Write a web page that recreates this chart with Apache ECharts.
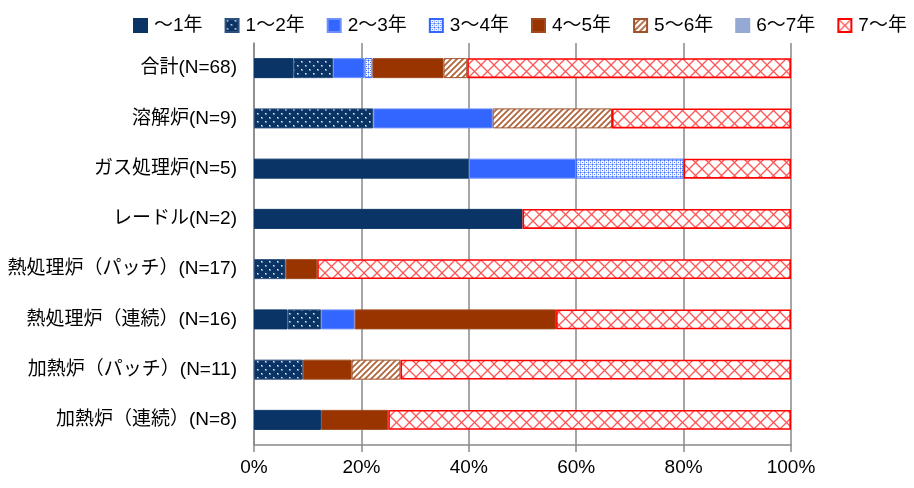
<!DOCTYPE html>
<html>
<head>
<meta charset="utf-8">
<script src="https://cdn.jsdelivr.net/npm/echarts@6/dist/echarts.min.js"></script>
<style>
  html, body { margin: 0; padding: 0; background: #fff; }
  #chart { width: 914px; height: 488px; }
</style>
</head>
<body>
<div id="chart"></div>
<script>
// Furnace types (top to bottom) and number of responses in each group
const categories = [
  '合計(N=68)',
  '溶解炉(N=9)',
  'ガス処理炉(N=5)',
  'レードル(N=2)',
  '熱処理炉（パッチ）(N=17)',
  '熱処理炉（連続）(N=16)',
  '加熱炉（パッチ）(N=11)',
  '加熱炉（連続）(N=8)'
];
const groupTotals = [68, 9, 5, 2, 17, 16, 11, 8];

// Response counts per age bracket, one value per category above
const seriesNames = ['～1年', '1～2年', '2～3年', '3～4年', '4～5年', '5～6年', '6～7年', '7～年'];
const upTo1  = [5, 0, 2, 1, 0, 1, 0, 1];
const y1to2  = [5, 2, 0, 0, 1, 1, 1, 0];
const y2to3  = [4, 2, 1, 0, 0, 1, 0, 0];
const y3to4  = [1, 0, 1, 0, 0, 0, 0, 0];
const y4to5  = [9, 0, 0, 0, 1, 6, 1, 1];
const y5to6  = [3, 2, 0, 0, 0, 0, 1, 0];
const y6to7  = [0, 0, 0, 0, 0, 0, 0, 0];
const over7  = [41, 3, 1, 1, 15, 7, 8, 6];

const xTicks = [0, 20, 40, 60, 80, 100];

// ---- fill patterns ----
function tile(w, h, draw) {
  const c = document.createElement('canvas');
  c.width = w; c.height = h;
  const g = c.getContext('2d');
  draw(g, w, h);
  return c;
}
const dotsOnNavy = tile(8, 8, (g) => {
  g.fillStyle = '#0b3466'; g.fillRect(0, 0, 8, 8);
  g.fillStyle = '#6f87a8';
  g.fillRect(1, 1, 2, 2);
  g.fillRect(5, 5, 2, 2);
  g.fillStyle = '#eef2f8';
  g.fillRect(1, 1, 1, 1);
  g.fillRect(5, 5, 1, 1);
});
const blueGrid = tile(4, 4, (g) => {
  g.fillStyle = '#ffffff'; g.fillRect(0, 0, 4, 4);
  g.fillStyle = '#9fb5ff';
  g.fillRect(0, 0, 4, 1);
  g.fillRect(0, 0, 1, 4);
  g.fillStyle = '#3c6bff';
  g.fillRect(0, 0, 1, 1);
  g.fillRect(2, 2, 1, 1);
});
const brownStripes = tile(6, 6, (g) => {
  g.fillStyle = '#ffffff'; g.fillRect(0, 0, 6, 6);
  g.strokeStyle = '#b0663a'; g.lineWidth = 1.8;
  g.beginPath();
  g.moveTo(-1, 7); g.lineTo(7, -1);
  g.moveTo(-4, 4); g.lineTo(4, -4);
  g.moveTo(2, 10); g.lineTo(10, 2);
  g.stroke();
});
const redHatch = tile(13, 13, (g) => {
  g.fillStyle = '#ffffff'; g.fillRect(0, 0, 13, 13);
  g.strokeStyle = '#ff5555'; g.lineWidth = 1.3;
  g.beginPath();
  g.moveTo(0, 0); g.lineTo(13, 13);
  g.moveTo(13, 0); g.lineTo(0, 13);
  g.stroke();
});
const pat = (img) => ({ image: img, repeat: 'repeat' });

const styles = [
  { color: '#0b3466', borderColor: '#0b3466', borderWidth: 1 },
  { color: pat(dotsOnNavy), borderColor: '#2d4f7c', borderWidth: 1 },
  { color: '#3366ff', borderColor: '#6f90ff', borderWidth: 1 },
  { color: pat(blueGrid), borderColor: '#3366ff', borderWidth: 1 },
  { color: '#993300', borderColor: '#a04a1e', borderWidth: 1 },
  { color: pat(brownStripes), borderColor: '#a0522d', borderWidth: 1 },
  { color: '#94a9d3', borderColor: '#94a9d3', borderWidth: 1 },
  { color: pat(redHatch), borderColor: '#ff0000', borderWidth: 1.6 }
];

const counts = [upTo1, y1to2, y2to3, y3to4, y4to5, y5to6, y6to7, over7];
const FONT = "'Liberation Sans', 'Noto Sans CJK JP', sans-serif";

const series = seriesNames.map((name, s) => ({
  name: name,
  type: 'bar',
  stack: 'share',
  barWidth: 20,
  itemStyle: styles[s],
  emphasis: { disabled: true },
  data: counts[s].map((v, i) => (v === 0 ? null : v / groupTotals[i] * 100))
}));

const chart = echarts.init(document.getElementById('chart'), null, { renderer: 'canvas' });
chart.setOption({
  animation: false,
  backgroundColor: '#ffffff',
  textStyle: { fontFamily: FONT },
  legend: {
    data: seriesNames,
    left: 133,
    top: 16,
    padding: 0,
    icon: 'rect',
    itemWidth: 13,
    itemHeight: 13,
    itemGap: 22,
    selectedMode: false,
    textStyle: { fontSize: 19, color: '#000', fontFamily: FONT, padding: [0, 0, 0, 2] }
  },
  grid: { left: 254, right: 123, top: 43, bottom: 43, containLabel: false },
  xAxis: {
    type: 'value',
    min: 0,
    max: 100,
    interval: 20,
    axisLine: { show: true, lineStyle: { color: '#898989', width: 1.5 } },
    axisTick: { show: true, length: 7, lineStyle: { color: '#898989', width: 1.5 } },
    splitLine: { show: true, lineStyle: { color: '#898989', width: 1.5 } },
    axisLabel: {
      fontSize: 19, color: '#000', margin: 13, fontFamily: FONT,
      formatter: (v) => (xTicks.includes(v) ? v + '%' : '')
    }
  },
  yAxis: {
    type: 'category',
    inverse: true,
    data: categories,
    axisLine: { show: true, lineStyle: { color: '#898989', width: 1.5 } },
    axisTick: { show: false },
    axisLabel: { fontSize: 19, color: '#000', margin: 17, fontFamily: FONT }
  },
  series: series
});
</script>
</body>
</html>
